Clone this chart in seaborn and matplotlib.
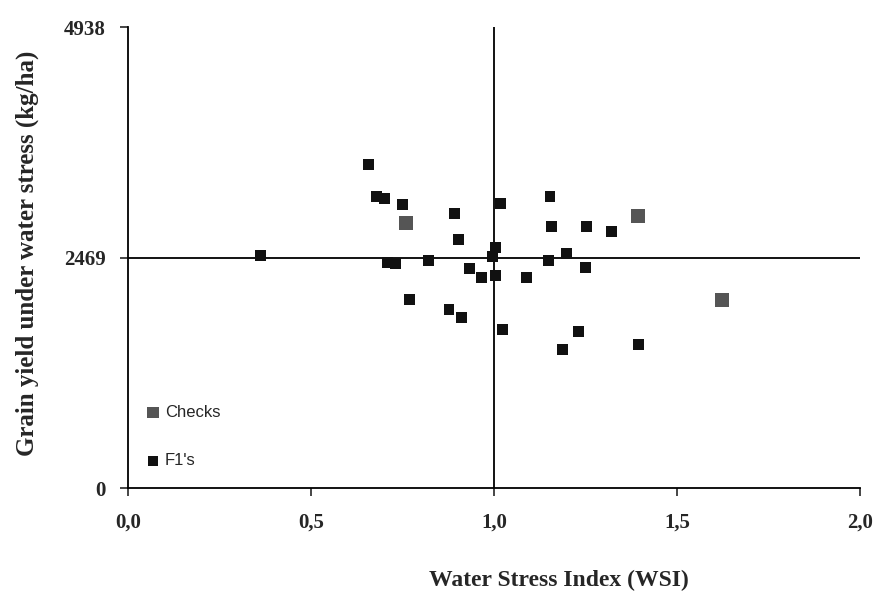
import pandas as pd
import matplotlib
matplotlib.use('Agg')
import matplotlib.pyplot as plt
import seaborn as sns

# values
check_wsi = [0.760, 1.393, 1.623]
check_yield = [2839, 2914, 2014]

f1_wsi = [0.363, 0.658, 0.678, 0.702, 0.751, 0.708, 0.732, 0.822, 0.768, 0.891,
          0.902, 0.934, 0.967, 0.877, 0.910, 1.003, 0.997, 1.003, 1.019, 1.022,
          1.090, 1.153, 1.158, 1.150, 1.199, 1.254, 1.320, 1.251, 1.232, 1.186,
          1.396]
f1_yield = [2496, 3471, 3128, 3106, 3042, 2421, 2410, 2442, 2025, 2946,
            2667, 2357, 2260, 1917, 1832, 2582, 2485, 2282, 3053, 1703,
            2260, 3128, 2807, 2442, 2517, 2807, 2753, 2367, 1682, 1489,
            1543]

x_ticks = [0.0, 0.5, 1.0, 1.5, 2.0]
x_tick_labels = ['0,0', '0,5', '1,0', '1,5', '2,0']
y_ticks = [0, 2469, 4938]
y_tick_labels = ['0', '2469', '4938']
mean_wsi = 1.0
mean_yield = 2469


def build_frame():
    checks = pd.DataFrame({'wsi': check_wsi, 'yield': check_yield, 'group': 'Checks'})
    f1 = pd.DataFrame({'wsi': f1_wsi, 'yield': f1_yield, 'group': "F1's"})
    return pd.concat([checks, f1], ignore_index=True)


def plot_data(df):
    sns.set_style('white')
    fig = plt.figure(figsize=(8.73, 5.93), dpi=100)
    ax = fig.add_axes([0.1466, 0.177, 0.8385, 0.777])

    ax.axvline(mean_wsi, color='black', lw=1.3, zorder=1)
    ax.axhline(mean_yield, color='black', lw=1.3, zorder=1)

    checks = df[df['group'] == 'Checks']
    f1 = df[df['group'] == "F1's"]
    sns.scatterplot(data=checks, x='wsi', y='yield', marker='s', s=95, color='#555555',
                    edgecolor='none', label='Checks', ax=ax, zorder=3)
    sns.scatterplot(data=f1, x='wsi', y='yield', marker='s', s=62, color='#111111',
                    edgecolor='none', label="F1's", ax=ax, zorder=3)

    ax.set_xlim(0, 2.0)
    ax.set_ylim(0, 4938)
    ax.set_xticks(x_ticks)
    ax.set_xticklabels(x_tick_labels, fontfamily='Liberation Serif', fontweight='bold', fontsize=15)
    ax.set_yticks(y_ticks)
    ax.set_yticklabels(y_tick_labels, fontfamily='Liberation Serif', fontweight='bold', fontsize=15)
    ax.tick_params(axis='x', direction='out', length=6, width=1.2, pad=12, bottom=True)
    ax.tick_params(axis='y', direction='out', length=6, width=1.2, pad=10, left=True)

    for side in ['top', 'right']:
        ax.spines[side].set_visible(False)
    for side in ['left', 'bottom']:
        ax.spines[side].set_color('black')
        ax.spines[side].set_linewidth(1.3)

    ax.set_xlabel('Water Stress Index (WSI)', fontfamily='Liberation Serif',
                  fontweight='bold', fontsize=17, va='center')
    ax.set_ylabel('Grain yield under water stress (kg/ha)', fontfamily='Liberation Serif',
                  fontweight='bold', fontsize=18, va='center')
    ax.xaxis.set_label_coords(0.589, -0.2)
    ax.yaxis.set_label_coords(-0.137, 0.51)

    ax.legend(loc='lower left', bbox_to_anchor=(0.0, 0.01), frameon=False,
              labelspacing=2.0, handletextpad=0.1, handlelength=1.2, markerscale=0.85,
              prop={'family': 'Liberation Sans', 'size': 12})
    return fig


def main():
    df = build_frame()
    fig = plot_data(df)
    fig.savefig('out.png', dpi=100)


if __name__ == '__main__':
    main()
